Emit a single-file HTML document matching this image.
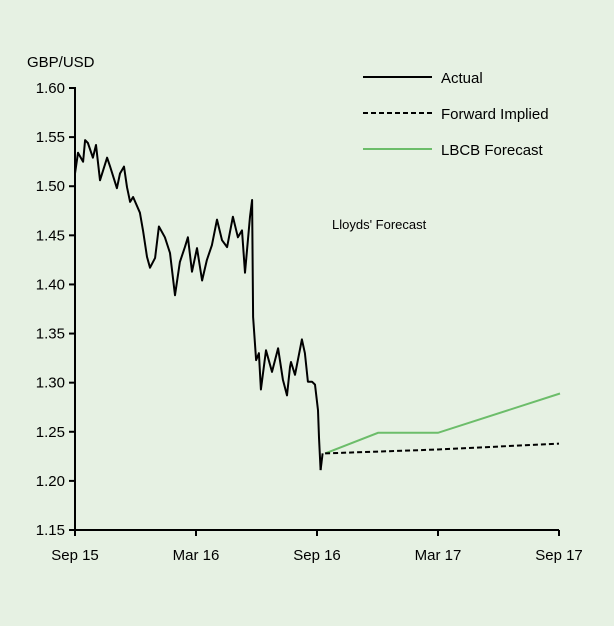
<!DOCTYPE html>
<html><head><meta charset="utf-8"><style>
html,body{margin:0;padding:0;background:#e6f1e3;}
svg{display:block;font-family:"Liberation Sans",sans-serif;}
</style></head><body>
<svg id="chart" width="614" height="626" viewBox="0 0 614 626">
<rect width="614" height="626" fill="#e6f1e3"/>
<text x="27" y="67" font-size="15" fill="#000">GBP/USD</text>
<g id="axes"></g>
<g id="series"></g>
<g>
<line x1="363" y1="77" x2="432" y2="77" stroke="#000" stroke-width="2"/>
<text x="441" y="83" font-size="15">Actual</text>
<line x1="363" y1="113" x2="432" y2="113" stroke="#000" stroke-width="2" stroke-dasharray="5,3"/>
<text x="441" y="119" font-size="15">Forward Implied</text>
<line x1="363" y1="149" x2="432" y2="149" stroke="#6cbd6a" stroke-width="2"/>
<text x="441" y="155" font-size="15">LBCB Forecast</text>
</g>
<text x="332" y="229" font-size="13">Lloyds' Forecast</text>
</svg>
<script>
const yTicks=[1.15,1.20,1.25,1.30,1.35,1.40,1.45,1.50,1.55,1.60];
const xTickMonths=[0,6,12,18,24];
const xTickLabels=["Sep 15","Mar 16","Sep 16","Mar 17","Sep 17"];
const actualMonths=[0,0.15,0.4,0.5,0.64,0.89,1.04,1.24,1.59,1.74,2.08,2.23,2.43,2.58,2.73,2.88,3.22,3.37,3.57,3.72,3.97,4.16,4.46,4.71,4.96,5.2,5.45,5.6,5.8,6.05,6.3,6.54,6.79,7.04,7.29,7.54,7.83,8.08,8.28,8.43,8.68,8.78,8.78,8.83,8.98,9.12,9.22,9.47,9.77,10.07,10.31,10.51,10.66,10.71,10.91,11.25,11.4,11.55,11.75,11.9,12.05,12.1,12.18];
const actualValues=[1.513,1.534,1.525,1.547,1.544,1.529,1.542,1.506,1.529,1.52,1.498,1.513,1.52,1.499,1.484,1.489,1.473,1.455,1.428,1.417,1.427,1.459,1.448,1.432,1.389,1.423,1.438,1.448,1.413,1.437,1.404,1.425,1.44,1.466,1.445,1.438,1.469,1.448,1.455,1.412,1.469,1.486,1.486,1.367,1.323,1.33,1.293,1.333,1.311,1.335,1.303,1.287,1.316,1.321,1.308,1.344,1.33,1.301,1.301,1.298,1.272,1.244,1.211];
const actualEndMonths=[12.18,12.28];
const actualEndValues=[1.211,1.228];
const forwardMonths=[12.4,18,24];
const forwardValues=[1.228,1.232,1.238];
const lbcbMonths=[12.4,15.03,18,24.05];
const lbcbValues=[1.228,1.249,1.249,1.289];

const X0=75,X1=559,Y0=530,Y1=88;
const xs=m=>X0+(X1-X0)*m/24;
const ys=v=>Y0-(Y0-Y1)*(v-1.15)/0.45;
const NS="http://www.w3.org/2000/svg";
const axes=document.getElementById('axes'),series=document.getElementById('series');
function mk(t,a,p){const e=document.createElementNS(NS,t);for(const k in a)e.setAttribute(k,a[k]);p.appendChild(e);return e;}
let yl=mk('line',{x1:X0,y1:Y1-1,x2:X0,y2:Y0,stroke:'#000','stroke-width':2},axes);


let xl=mk('line',{x1:X0-6,y1:Y0,x2:X1,y2:Y0,stroke:'#000','stroke-width':2},axes);


yTicks.forEach(v=>{
  const y=ys(v);
  let t=mk('line',{x1:X0-6,y1:y,x2:X0,y2:y,stroke:'#000','stroke-width':2},axes);
  
  
  let tx=mk('text',{x:X0-10,y:y+5,'font-size':15,'text-anchor':'end'},axes);
  tx.textContent=v.toFixed(2);
  
  
});
xTickMonths.forEach((m,i)=>{
  const x=xs(m);
  let t=mk('line',{x1:x,y1:Y0,x2:x,y2:Y0+6,stroke:'#000','stroke-width':2},axes);
  
  
  let tx=mk('text',{x:x,y:Y0+30,'font-size':15,'text-anchor':'middle'},axes);
  tx.textContent=xTickLabels[i];
  
  
});
function pts(ms,vs){return ms.map((m,i)=>xs(m).toFixed(1)+','+ys(vs[i]).toFixed(1)).join(' ');}
let lb=mk('polyline',{points:pts(lbcbMonths,lbcbValues),fill:'none',stroke:'#6cbd6a','stroke-width':2},series);


let fw=mk('polyline',{points:pts(forwardMonths,forwardValues),fill:'none',stroke:'#000','stroke-width':2,'stroke-dasharray':'5,3'},series);


let ac=mk('polyline',{points:pts(actualMonths,actualValues),fill:'none',stroke:'#000','stroke-width':2,'stroke-linejoin':'round'},series);


let ae=mk('polyline',{points:pts(actualEndMonths,actualEndValues),fill:'none',stroke:'#000','stroke-width':2},series);


</script>
</body></html>
